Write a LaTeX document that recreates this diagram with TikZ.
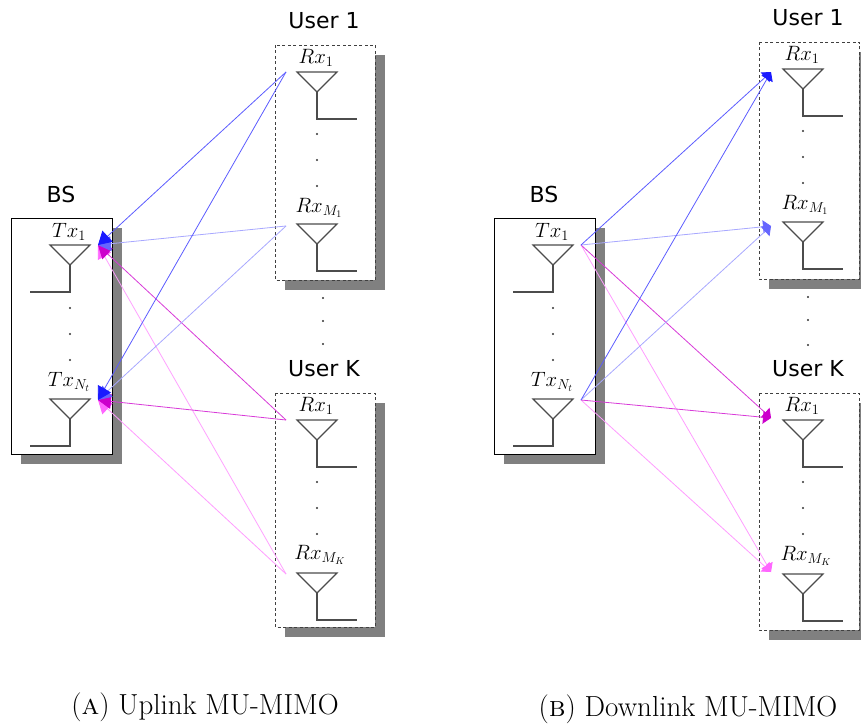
\documentclass[tikz,border=0pt]{standalone}
\usepackage{fontspec}
\usetikzlibrary{arrows.meta}
\newfontfamily\lblfont{DejaVu Sans}
\definecolor{lineone}{HTML}{5C5CFF}
\definecolor{linetwo}{HTML}{A8A8FF}
\definecolor{linethree}{HTML}{D83AD8}
\definecolor{linefour}{HTML}{FF9CFF}
\definecolor{tipone}{HTML}{1A1AFF}
\definecolor{tiptwo}{HTML}{6666FF}
\definecolor{tipthree}{HTML}{CC00CC}
\definecolor{tipfour}{HTML}{FF66FF}
\tikzset{
  unit/.style={x=1pt,y=-1pt},
  shadow/.style={fill=black!50},
  bsbox/.style={draw=black,fill=white,line width=0.8pt},
  userbox/.style={draw=black!75,fill=white,dash pattern=on 3pt off 2.5pt,line width=0.9pt},
  antline/.style={draw=black!70,line width=1.2pt},
  grouplabel/.style={font=\lblfont\fontsize{22}{22}\selectfont,inner sep=0pt},
  antlabel/.style={font=\fontsize{20.5}{20.5}\selectfont,inner sep=0pt},
  caplabel/.style={font=\fontsize{29}{29}\selectfont,inner sep=0pt},
  dotmark/.style={fill=black!80,circle,inner sep=0pt,minimum size=2.4pt},
  link/.style={line width=0.8pt},
  pathone/.style={link,draw=lineone,-{Triangle[length=\tiplen,width=\tipwid,color=tipone]}},
  pathtwo/.style={link,draw=linetwo,-{Triangle[length=\tiplen,width=\tipwid,color=tiptwo]}},
  paththree/.style={link,draw=linethree,-{Triangle[length=\tiplen,width=\tipwid,color=tipthree]}},
  pathfour/.style={link,draw=linefour,-{Triangle[length=\tiplen,width=\tipwid,color=tipfour]}}
}
\begin{document}
\begin{tikzpicture}[unit]
  \clip (0,0) rectangle (861,727);
  % antenna: top-left corner, tail direction
  \def\ant(#1,#2)#3{
    \draw[antline] (#1,#2) -- ++(40,0) -- ++(-20,20) -- cycle;
    \draw[antline] (#1+20,#2+20) -- ++(0,27) -- ++(#3,0);
  }
  \def\dots(#1,#2)#3{
    \foreach \k in {0,1,2} {
      \node[dotmark] (#3\k) at (#1,#2+\k*26) {};
    }
  }
  % base station panel part
  \def\base{
    \node[grouplabel] (bs) at (61,194) {BS};
    \fill[shadow] (21,228) rectangle (122,464);
    \draw[bsbox] (11,218) rectangle (112,454);
    \node[antlabel] (tx1) at (69,232) {$Tx_{1}$};
    \node[antlabel] (txn) at (69,382) {$Tx_{N_t}$};
    \ant(50,245){-40}
    \ant(50,399){-40}
    \dots(70,308){bsdot}
  }
  % one user: x, y of box top, y of box bottom, antenna inset
  \def\usr(#1,#2,#3,#4)#5{
    \fill[shadow] (#1+10,#2+10) rectangle (#1+110,#3+10);
    \draw[userbox] (#1,#2) rectangle (#1+100,#3);
    \node[grouplabel] (#5lab) at (#1+49,#2-24) {User #5};
    \node[antlabel] (#5rxa) at (#1+#4+19,#2+13) {$Rx_{1}$};
    \ant(#1+#4,#2+27){40}
    \dots(#1+#4+20,#2+89){#5dot}
  }

  \begin{scope}[name prefix=up-]
    \def\tiplen{13pt}
    \def\tipwid{15pt}
    \base
    \usr(275,45,280,22){1}
    \node[antlabel] (1rxb) at (319,208) {$Rx_{M_1}$};
    \ant(297,224){40}
    \usr(275,393,627,22){K}
    \node[antlabel] (Krxb) at (320,555) {$Rx_{M_K}$};
    \ant(297,573){40}
    \node[dotmark] (gapa) at (323,298) {};
    \node[dotmark] (gapb) at (323,321) {};
    \node[dotmark] (gapc) at (323,344) {};
    \coordinate (t1) at (98,245);
    \coordinate (t2) at (98,400);
    \coordinate (r1) at (286,72);
    \coordinate (r2) at (286,226);
    \coordinate (r3) at (286,420);
    \coordinate (r4) at (286,574);
    \foreach \r/\c in {r4/pathfour,r3/paththree,r2/pathtwo,r1/pathone} {
      \foreach \t in {t1,t2} {
        \draw[\c] (\r) -- (\t);
      }
    }
  \end{scope}

  \begin{scope}[shift={(483,0)},name prefix=down-]
    \base
  \end{scope}

  \begin{scope}[shift={(484,0)},name prefix=down-]
    \def\tiplen{8pt}
    \def\tipwid{13pt}
    \usr(275,42,279,24){1}
    \node[antlabel] (1rxb) at (321,205) {$Rx_{M_1}$};
    \ant(299,222){40}
    \usr(275,393,630,24){K}
    \node[antlabel] (Krxb) at (322,556) {$Rx_{M_K}$};
    \ant(299,574){40}
    \node[dotmark] (gapa) at (324,297) {};
    \node[dotmark] (gapb) at (324,320) {};
    \node[dotmark] (gapc) at (324,345) {};
    \coordinate (t1) at (97,245);
    \coordinate (t2) at (97,400);
    \coordinate (r1) at (287,72);
    \coordinate (r2) at (287,226);
    \coordinate (r3) at (287,418);
    \coordinate (r4) at (287,572);
    \foreach \r/\c in {r4/pathfour,r3/paththree,r2/pathtwo,r1/pathone} {
      \foreach \t in {t1,t2} {
        \draw[\c] (\t) -- (\r);
      }
    }
  \end{scope}

  \node[caplabel] (capa) at (205,707) {(\textsc{a}) Uplink MU-MIMO};
  \node[caplabel] (capb) at (688,709) {(\textsc{b}) Downlink MU-MIMO};
\end{tikzpicture}
\end{document}
